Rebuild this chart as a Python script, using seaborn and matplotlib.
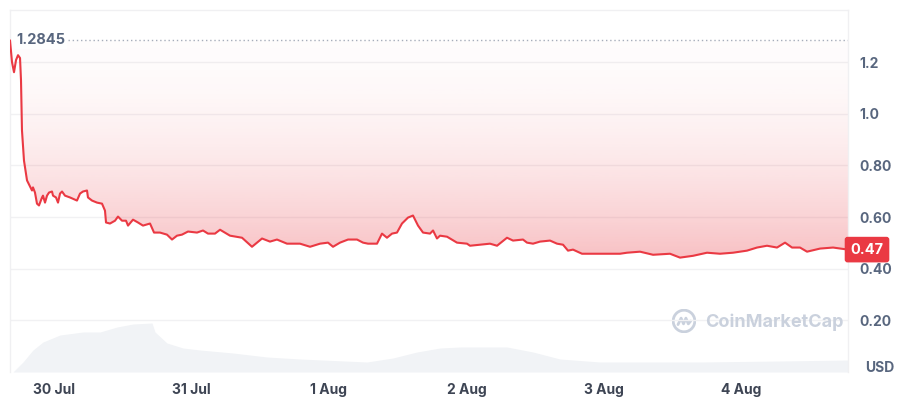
import numpy as np
import pandas as pd
import seaborn as sns
import matplotlib
matplotlib.use("Agg")
import matplotlib.pyplot as plt
from matplotlib.patches import Arc

# price series, hours since 29 Jul ~16:00
hours = [0.32, 0.67, 1.02, 1.37, 1.72, 2.07, 2.24, 2.41, 2.76, 3.29, 4.16, 4.33, 4.68,
         5.03, 5.38, 5.91, 6.08, 6.43, 6.78, 7.13, 7.65, 7.83, 8.35, 8.70, 9.05, 9.40,
         9.92, 10.79, 12.01, 12.54, 13.06, 13.76, 13.93, 14.63, 15.51, 16.38, 16.90,
         17.08, 17.77, 18.65, 19.17, 19.87, 20.57, 20.92, 21.79, 22.66, 23.53, 24.76,
         25.46, 26.50, 27.72, 28.60, 29.47, 30.34, 31.39, 32.96, 34.01, 34.88, 36.10,
         36.98, 38.72, 40.82, 42.56, 44.31, 45.70, 46.92, 48.67, 50.94, 52.69, 54.43,
         55.83, 56.70, 57.92, 59.32, 60.89, 61.94, 62.81, 64.38, 65.25, 66.12, 67.00,
         67.87, 68.74, 69.79, 70.66, 71.54, 72.41, 73.63, 74.16, 74.85, 75.38, 76.60,
         78.34, 80.09, 80.61, 82.36, 84.10, 85.33, 87.07, 88.12, 89.86, 90.56, 91.61,
         92.83, 94.58, 95.80, 96.85, 97.72, 98.59, 100.16, 102.08, 104.53, 106.80,
         108.02, 110.29, 112.56, 115.52, 117.27, 119.54, 121.98, 124.25, 126.52,
         128.96, 130.71, 132.45, 134.20, 135.60, 136.82, 138.21, 139.44, 141.71,
         143.98, 146.59]
price = [1.2845, 1.200, 1.161, 1.208, 1.227, 1.216, 1.130, 0.936, 0.819, 0.742, 0.703,
         0.715, 0.695, 0.652, 0.645, 0.676, 0.683, 0.656, 0.683, 0.695, 0.699, 0.683,
         0.676, 0.656, 0.691, 0.699, 0.683, 0.676, 0.664, 0.691, 0.699, 0.703, 0.676,
         0.664, 0.656, 0.652, 0.625, 0.579, 0.575, 0.586, 0.602, 0.586, 0.586, 0.567,
         0.590, 0.579, 0.567, 0.575, 0.540, 0.540, 0.532, 0.513, 0.528, 0.532, 0.544,
         0.540, 0.548, 0.536, 0.536, 0.551, 0.528, 0.520, 0.485, 0.517, 0.505, 0.513,
         0.497, 0.497, 0.485, 0.497, 0.501, 0.485, 0.501, 0.513, 0.513, 0.501, 0.497,
         0.497, 0.536, 0.520, 0.536, 0.540, 0.575, 0.598, 0.606, 0.567, 0.540, 0.536,
         0.548, 0.517, 0.528, 0.524, 0.501, 0.497, 0.489, 0.493, 0.497, 0.489, 0.520,
         0.509, 0.513, 0.501, 0.497, 0.505, 0.509, 0.497, 0.493, 0.470, 0.474, 0.458,
         0.458, 0.458, 0.458, 0.462, 0.466, 0.454, 0.458, 0.443, 0.450, 0.462, 0.458,
         0.462, 0.470, 0.482, 0.489, 0.482, 0.501, 0.482, 0.482, 0.466, 0.478, 0.482,
         0.474]

# volume (M USD, rough)
vol_hours = [0.32, 0.84, 2.59, 4.33, 6.08, 9.05, 13.06, 16.03, 19.00, 21.79, 25.11,
             25.63, 27.72, 30.52, 33.48, 39.24, 45.18, 50.94, 62.63, 67.17, 71.36,
             75.38, 78.87, 87.07, 91.61, 96.32, 103.30, 120.76, 134.72, 146.59]
volume = [0, 0, 1.0, 2.2, 3.0, 3.7, 4.0, 4.0, 4.5, 4.8, 4.9, 4.0, 2.9, 2.4, 2.2, 1.9,
          1.5, 1.3, 1.0, 1.4, 2.0, 2.4, 2.5, 2.5, 2.0, 1.3, 1.0, 1.0, 1.1, 1.2]

open_price = 1.2845
last_label = "0.47"
tick_hours = [8, 32, 56, 80, 104, 128]
tick_labels = ["30 Jul", "31 Jul", "1 Aug", "2 Aug", "3 Aug", "4 Aug"]
y_ticks = [0.20, 0.40, 0.60, 0.80, 1.0, 1.2]
y_labels = ["0.20", "0.40", "0.60", "0.80", "1.0", "1.2"]

RED = "#ea3943"
GREY = "#58667e"

sns.set_style("white")
plt.rcParams["font.family"] = ["Inter", "DejaVu Sans"]

df = pd.DataFrame({"t": hours, "price": price})
vdf = pd.DataFrame({"t": vol_hours, "vol": volume})

fig = plt.figure(figsize=(9, 4), dpi=100)
ax = fig.add_axes([10 / 900, 1 - 372 / 400, 838 / 900, 362 / 400])
vax = ax.twinx()
vax.set_zorder(0)
ax.set_zorder(1)
ax.patch.set_visible(False)

# volume area
vax.fill_between(vdf["t"], vdf["vol"], color="#f1f3f6", lw=0)
vax.set_ylim(0, 36.2)
vax.set_yticks([])
for s in vax.spines.values():
    s.set_visible(False)

xmin, xmax = hours[0], hours[-1]
ymax = 1.402

# gradient fill between line and opening price (faint at top, stronger near line)
poly = ax.fill_between(df["t"], df["price"], open_price, color="none", lw=0)
grad = np.linspace(0, 1, 256).reshape(-1, 1)
rgba = np.zeros((256, 1, 4))
rgba[..., :3] = matplotlib.colors.to_rgb(RED)
rgba[..., 3] = 0.015 + 0.30 * grad ** 1.8
img = ax.imshow(rgba, aspect="auto", origin="upper",
                extent=[xmin, xmax, min(price), open_price], zorder=1)
img.set_clip_path(poly.get_paths()[0], transform=ax.transData)

sns.lineplot(data=df, x="t", y="price", ax=ax, color=RED, lw=1.5, zorder=3)

ax.set_xlim(xmin, xmax)
ax.set_ylim(0, ymax)
vax.set_xlim(xmin, xmax)

# grid
for yv in y_ticks:
    ax.axhline(yv, color="#f1f1f3", lw=1, zorder=0.5)

ax.hlines(open_price, 10.5, xmax, colors="#a6adba", linestyles=(0, (1, 2)), lw=1, zorder=2)
ax.text(1.4, open_price, f"{open_price}", color=GREY, fontsize=10.5, fontweight="bold",
        va="center", ha="left", zorder=4,
        bbox=dict(boxstyle="square,pad=0.1", fc="white", ec="none", alpha=0.8))

ax.set_xticks(tick_hours)
ax.set_xticklabels(tick_labels, fontsize=10, fontweight="bold", color="#3e4554")
ax.tick_params(axis="x", length=0, pad=8)
ax.yaxis.tick_right()
ax.set_yticks(y_ticks)
ax.set_yticklabels(y_labels, fontsize=10, fontweight="bold", color=GREY)
ax.tick_params(axis="y", length=0, pad=8)
ax.set_xlabel("")
ax.set_ylabel("")

for name, s in ax.spines.items():
    s.set_color("#f0f0f2")
    s.set_linewidth(1)
ax.spines["bottom"].set_visible(False)

# last price badge
ax.text(1.003, price[-1], last_label, transform=ax.get_yaxis_transform(),
        color="white", fontsize=10.5, fontweight="bold", va="center", ha="left",
        bbox=dict(boxstyle="round,pad=0.35,rounding_size=0.15", fc=RED, ec=RED), zorder=5)

fig.text(865 / 900, 1 - 368 / 400, "USD", fontsize=10, fontweight="bold",
         color=GREY, ha="left", va="center")

# watermark
fig.text(705 / 900, 1 - 322 / 400, "CoinMarketCap", fontsize=13, fontweight="bold",
         color="#cad1dd", ha="left", va="center")
lax = fig.add_axes([672 / 900, 1 - 333 / 400, 24 / 900, 24 / 400])
lax.add_patch(Arc((0.5, 0.5), 0.9, 0.9, theta1=-50, theta2=310, color="#cad1dd", lw=2))
lax.plot([0.25, 0.38, 0.48, 0.58, 0.68, 0.78], [0.35, 0.62, 0.38, 0.62, 0.38, 0.5],
         color="#cad1dd", lw=2)
lax.set_xlim(0, 1)
lax.set_ylim(0, 1)
lax.axis("off")

fig.savefig("out.png", dpi=100)
